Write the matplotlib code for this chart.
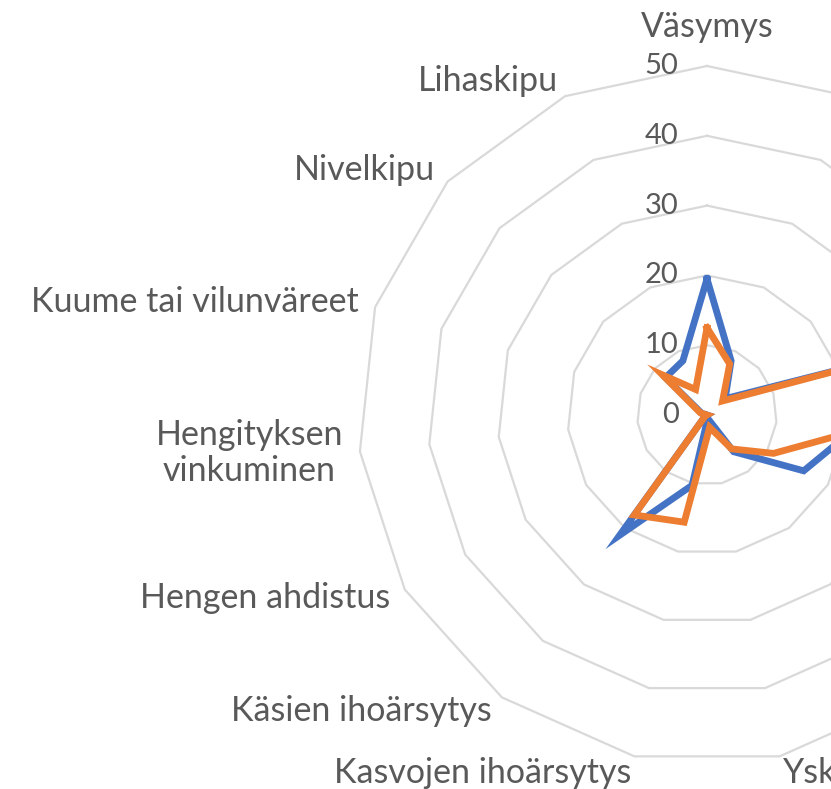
import numpy as np
import matplotlib
matplotlib.use("Agg")
import matplotlib.pyplot as plt

# Categories in clockwise order starting from the top (Excel radar order)
categories = ["Väsymys", "", "", "", "", "", "", "Yskä",
              "Kasvojen ihoärsytys", "Käsien ihoärsytys", "Hengen ahdistus",
              "Hengityksen\nvinkuminen", "Kuume tai vilunväreet", "Nivelkipu", "Lihaskipu"]
series_blue = [19.5, 8.5, 3.5, 25, 21, 16, 6.5, 0.5, 10.3, 21.3, 0.3, 0, 0.8, 8, 8.5]
series_orange = [12.5, 8, 3, 25, 21.5, 11, 6, 1.8, 15.7, 17.7, 0.3, 0, 1, 8.6, 4]
ring_values = [10, 20, 30, 40, 50]
tick_values = [0, 10, 20, 30, 40, 50]

BLUE = "#4472C4"
ORANGE = "#ED7D31"
GRID = "#D9D9D9"
TEXT = "#595959"
FONT = "Lato"

W, H = 831, 789
cx, cy, R = 707, 415, 349
fig = plt.figure(figsize=(W / 100, H / 100), dpi=100)
ax = fig.add_axes([(cx - R) / W, (H - cy - R) / H, 2 * R / W, 2 * R / H],
                  projection="polar")
ax.set_theta_offset(np.pi / 2)
ax.set_theta_direction(-1)
ax.set_ylim(0, 50)
ax.set_axis_off()

n = len(categories)
theta = np.arange(n) * 2 * np.pi / n
theta_c = np.append(theta, theta[0])

for rv in ring_values:
    ax.plot(theta_c, [rv] * (n + 1), color=GRID, lw=1.6, zorder=1, clip_on=False)

for vals, col in [(series_blue, BLUE), (series_orange, ORANGE)]:
    v = np.append(vals, vals[0])
    ax.plot(theta_c, v, color=col, lw=4.9, solid_joinstyle="miter", zorder=3,
            clip_on=False)

for tv in tick_values:
    ax.annotate(str(tv), xy=(0, tv), xytext=(-20.5, 0), textcoords="offset points",
                ha="right", va="center", color=TEXT, fontsize=21, family=FONT,
                zorder=2, annotation_clip=False)

for t, lab in zip(theta, categories):
    if not lab:
        continue
    s, c = np.sin(t), np.cos(t)
    if abs(s) < 0.05 and c > 0:
        off = (0, 28)
        ha = "center"
    else:
        off = (12 * s, 12 * c)
        ha = "right" if s < -0.05 else ("left" if s > 0.05 else "center")
    ax.annotate(lab, xy=(t, 50), xytext=off, textcoords="offset points",
                ha=ha, va="center", multialignment="center", color=TEXT,
                fontsize=24.5, family=FONT, annotation_clip=False,
                linespacing=1.15)

fig.savefig("out.png", dpi=100)
